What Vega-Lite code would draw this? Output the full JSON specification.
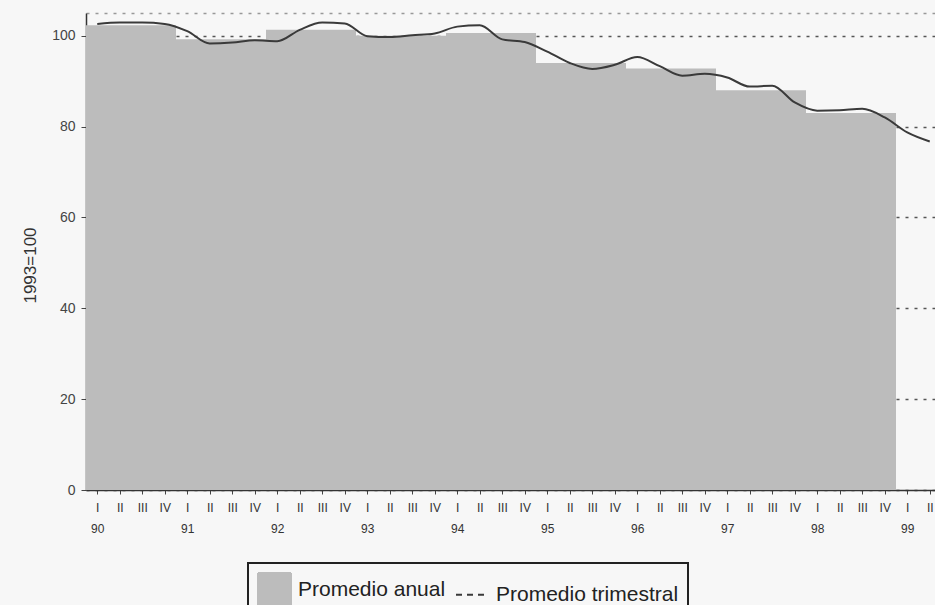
{
  "$schema": "https://vega.github.io/schema/vega-lite/v6.json",
  "width": 850,
  "height": 477,
  "autosize": {"type": "none"},
  "padding": {"left": 86, "top": 13, "right": 0, "bottom": 115},
  "background": "#f7f7f7",
  "config": {
    "view": {"stroke": null},
    "font": "Liberation Sans",
    "legend": {
      "strokeColor": "#222",
      "strokeWidth": 2,
      "fillColor": "#f7f7f7",
      "padding": 9,
      "cornerRadius": 0
    }
  },
  "resolve": {"axis": {"x": "independent"}},
  "datasets": {
    "anual": [
      {"inicio": 1990, "fin": 1991, "valor": 102.3},
      {"inicio": 1991, "fin": 1992, "valor": 99.2},
      {"inicio": 1992, "fin": 1993, "valor": 101.3},
      {"inicio": 1993, "fin": 1994, "valor": 100.0},
      {"inicio": 1994, "fin": 1995, "valor": 100.6},
      {"inicio": 1995, "fin": 1996, "valor": 94.0},
      {"inicio": 1996, "fin": 1997, "valor": 92.8},
      {"inicio": 1997, "fin": 1998, "valor": 88.0},
      {"inicio": 1998, "fin": 1999, "valor": 83.0}
    ],
    "trimestral": [
      {"t": 1990.125, "valor": 102.6},
      {"t": 1990.375, "valor": 102.9},
      {"t": 1990.625, "valor": 102.9},
      {"t": 1990.875, "valor": 102.6},
      {"t": 1991.125, "valor": 101.0},
      {"t": 1991.375, "valor": 98.3},
      {"t": 1991.625, "valor": 98.5},
      {"t": 1991.875, "valor": 99.0},
      {"t": 1992.125, "valor": 98.8},
      {"t": 1992.375, "valor": 101.3},
      {"t": 1992.625, "valor": 102.9},
      {"t": 1992.875, "valor": 102.7},
      {"t": 1993.125, "valor": 99.9},
      {"t": 1993.375, "valor": 99.7},
      {"t": 1993.625, "valor": 100.1},
      {"t": 1993.875, "valor": 100.5},
      {"t": 1994.125, "valor": 102.0},
      {"t": 1994.375, "valor": 102.3},
      {"t": 1994.625, "valor": 99.2},
      {"t": 1994.875, "valor": 98.6},
      {"t": 1995.125, "valor": 96.5},
      {"t": 1995.375, "valor": 94.0},
      {"t": 1995.625, "valor": 92.7},
      {"t": 1995.875, "valor": 93.6},
      {"t": 1996.125, "valor": 95.3},
      {"t": 1996.375, "valor": 93.3},
      {"t": 1996.625, "valor": 91.2},
      {"t": 1996.875, "valor": 91.6},
      {"t": 1997.125, "valor": 90.8},
      {"t": 1997.375, "valor": 88.8},
      {"t": 1997.625, "valor": 89.0},
      {"t": 1997.875, "valor": 85.3},
      {"t": 1998.125, "valor": 83.5},
      {"t": 1998.375, "valor": 83.6},
      {"t": 1998.625, "valor": 83.9},
      {"t": 1998.875, "valor": 82.0},
      {"t": 1999.125, "valor": 78.7},
      {"t": 1999.375, "valor": 76.7}
    ]
  },
  "layer": [
    {
      "data": {"name": "anual"},
      "mark": {"type": "rect"},
      "encoding": {
        "x": {
          "field": "inicio",
          "type": "quantitative",
          "scale": {"domain": [1990, 1999.4444], "nice": false, "zero": false},
          "axis": {
            "orient": "bottom",
            "title": null,
            "grid": false,
            "values": [1990.125, 1990.375, 1990.625, 1990.875, 1991.125, 1991.375, 1991.625, 1991.875, 1992.125, 1992.375, 1992.625, 1992.875, 1993.125, 1993.375, 1993.625, 1993.875, 1994.125, 1994.375, 1994.625, 1994.875, 1995.125, 1995.375, 1995.625, 1995.875, 1996.125, 1996.375, 1996.625, 1996.875, 1997.125, 1997.375, 1997.625, 1997.875, 1998.125, 1998.375, 1998.625, 1998.875, 1999.125, 1999.375],
            "labelExpr": "['I','II','III','IV'][round((datum.value - floor(datum.value)) * 4 - 0.5)]",
            "labelOverlap": false,
            "labelFlush": false,
            "labelBound": false,
            "labelBaseline": "top",
            "labelFontSize": 12,
            "labelPadding": 8,
            "labelColor": "#333",
            "tickSize": 4,
            "tickColor": "#444",
            "domainColor": "#333",
            "domainWidth": 1.5
          }
        },
        "x2": {"field": "fin"},
        "y": {
          "field": "valor",
          "type": "quantitative",
          "scale": {"domain": [0, 105], "nice": false},
          "axis": {
            "values": [0, 20, 40, 60, 80, 100, 105],
            "labelExpr": "datum.value > 100 ? '' : datum.label",
            "title": "1993=100",
            "titleX": -56,
            "titleY": 252,
            "titleAngle": -90,
            "titleAlign": "center",
            "titleBaseline": "middle",
            "titleFontSize": 17,
            "titleFontWeight": "normal",
            "titleColor": "#333",
            "grid": true,
            "gridDash": [3, 6],
            "gridColor": {"condition": {"test": "datum.value > 100", "value": "#999"}, "value": "#555"},
            "gridWidth": 1.3,
            "tickOpacity": {"condition": {"test": "datum.value > 100", "value": 0}, "value": 1},
            "tickSize": 5,
            "tickColor": "#444",
            "labelPadding": 6,
            "labelFontSize": 14,
            "labelColor": "#444",
            "domainColor": "#333",
            "domainWidth": 1.5
          }
        },
        "y2": {"datum": 0},
        "color": {
          "datum": "Promedio anual",
          "type": "nominal",
          "scale": {"domain": ["Promedio anual", "Promedio trimestral"], "range": ["#bcbcbc", "#3a3a3a"]},
          "legend": {
            "title": null,
            "orient": "none",
            "legendX": 162,
            "legendY": 550,
            "direction": "horizontal",
            "labelFontSize": 21,
            "labelColor": "#222",
            "labelOffset": 6,
            "labelLimit": 500,
            "labelBaseline": "middle",
            "labelExpr": "datum.label == 'Promedio trimestral' ? datum.label + '\u00a0\u00a0\u00a0\u00a0\u00a0\u00a0\u00a0\u00a0\u00a0\u00a0' : datum.label",
            "columnPadding": 6,
            "symbolSize": 1089,
            "symbolType": "square",
            "encode": {
              "symbols": {
                "update": {
                  "shape": {"signal": "datum.value === 'Promedio trimestral' ? 'stroke' : 'square'"},
                  "stroke": {"signal": "datum.value === 'Promedio trimestral' ? '#333' : 'transparent'"},
                  "fill": {"signal": "datum.value === 'Promedio trimestral' ? 'transparent' : '#bcbcbc'"},
                  "strokeWidth": {"value": 2},
                  "strokeDash": {"signal": "datum.value === 'Promedio trimestral' ? [6, 5] : [1, 0]"},
                  "opacity": {"value": 1}
                }
              }
            }
          }
        }
      }
    },
    {
      "data": {"name": "trimestral"},
      "mark": {"type": "line", "interpolate": "monotone", "strokeWidth": 2},
      "encoding": {
        "x": {
          "field": "t",
          "type": "quantitative",
          "axis": {
            "orient": "bottom",
            "title": null,
            "grid": false,
            "domain": false,
            "ticks": false,
            "tickSize": 0,
            "values": [1990.125, 1991.125, 1992.125, 1993.125, 1994.125, 1995.125, 1996.125, 1997.125, 1998.125, 1999.125],
            "labelExpr": "slice(toString(floor(datum.value)), 2)",
            "labelOverlap": false,
            "labelFlush": false,
            "labelBound": false,
            "labelBaseline": "top",
            "labelFontSize": 12,
            "labelPadding": 33,
            "labelColor": "#333"
          }
        },
        "y": {"field": "valor", "type": "quantitative"},
        "color": {"datum": "Promedio trimestral", "type": "nominal"}
      }
    }
  ]
}
